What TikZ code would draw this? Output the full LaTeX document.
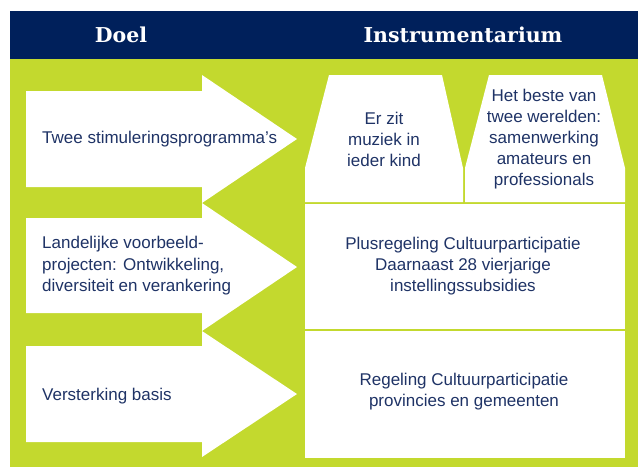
\documentclass[tikz,border=0pt]{standalone}
\usepackage{fontspec}
\setmainfont{Liberation Sans}
\newfontfamily\headfont{DejaVu Serif}
\usepackage{xcolor}
\definecolor{navyhead}{HTML}{00205B}
\definecolor{limegreen}{HTML}{C3D92E}
\definecolor{navytext}{HTML}{1F3366}
\usetikzlibrary{positioning}

\begin{document}
\begin{tikzpicture}[x=1pt, y=-1pt,
  headtext/.style={text=white, font=\headfont\bfseries\fontsize{20.5}{24}\selectfont},
  doeltext/.style={anchor=west, align=left, inner sep=0pt, text=navytext, font=\fontsize{17}{21.5}\selectfont},
  insttext/.style={align=center, inner sep=0pt, text=navytext, font=\fontsize{17}{21}\selectfont}]
  \useasboundingbox (0,0) rectangle (638,467);

  % Header band and green field
  \fill[navyhead] (10,11) rectangle (638,59);
  \fill[limegreen] (10,59) rectangle (638,467);
  \node[headtext] (doel) at (121,35) {Doel};
  \node[headtext] (instr) at (463,35) {Instrumentarium};

  % Goal arrows
  \fill[white] (26,91) -- (202,91) -- (202,75) -- (297,139) -- (202,203) -- (202,187) -- (26,187) -- cycle;
  \fill[white] (26,218) -- (202,218) -- (202,203) -- (297,267) -- (202,331) -- (202,313) -- (26,313) -- cycle;
  \fill[white] (26,346) -- (202,346) -- (202,331) -- (297,394) -- (202,457) -- (202,442) -- (26,442) -- cycle;
  \node[doeltext] (stim) at (42,139) {Twee stimuleringsprogramma’s};
  \node[doeltext] (lvp) at (42,266) {Landelijke voorbeeld-\\projecten: Ontwikkeling,\\diversiteit en verankering};
  \node[doeltext] (basis) at (42,396) {Versterking basis};

  % Instruments
  \fill[white] (329,75) -- (442,75) -- (463,168) -- (463,202) -- (305,202) -- (305,168) -- cycle;
  \fill[white] (489,75) -- (602,75) -- (625,168) -- (625,202) -- (465,202) -- (465,168) -- cycle;
  \fill[white] (305,204) rectangle (625,329);
  \fill[white] (305,331) rectangle (625,458);
  \node[insttext] (muziek) at (384,139) {Er zit\\muziek in\\ieder kind};
  \node[insttext] (werelden) at (544,139) {Het beste van\\twee werelden:\\samenwerking\\amateurs en\\professionals};
  \node[insttext] (plus) at (463,266) {Plusregeling Cultuurparticipatie\\Daarnaast 28 vierjarige\\instellingssubsidies};
  \node[insttext] (regeling) at (464,392) {Regeling Cultuurparticipatie\\provincies en gemeenten};

\end{tikzpicture}
\end{document}
